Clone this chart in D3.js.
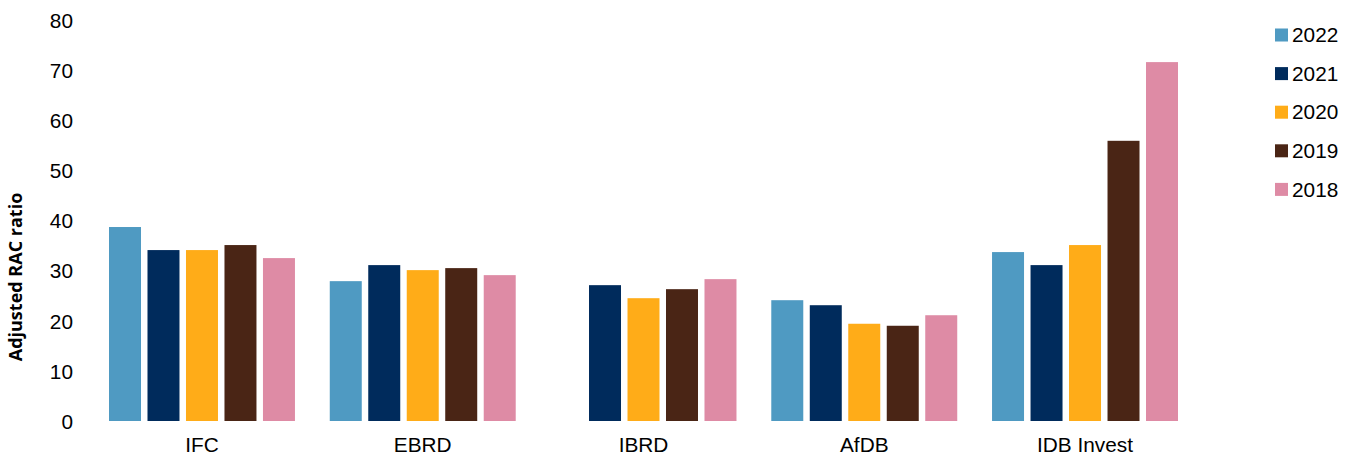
<!DOCTYPE html>
<html><head><meta charset="utf-8">
<script src="https://cdn.jsdelivr.net/npm/d3@7"></script>
<style>body{margin:0;background:#fff}</style>
</head><body>
<svg id="c" width="1351" height="457"></svg>
<script>
const categories = ["IFC","EBRD","IBRD","AfDB","IDB Invest"];
const years = ["2022","2021","2020","2019","2018"];
const v2022 = [38.7, 27.9, null, 24.1, 33.7];
const v2021 = [34.1, 31.1, 27.1, 23.1, 31.1];
const v2020 = [34.1, 30.1, 24.5, 19.4, 35.1];
const v2019 = [35.1, 30.5, 26.3, 19.0, 55.9];
const v2018 = [32.5, 29.1, 28.3, 21.1, 71.6];
const yTicks = [0,10,20,30,40,50,60,70,80];
const colors = ["#4F9AC2","#002B5C","#FFAC18","#4A2515","#DE8BA5"];
const series = [v2022, v2021, v2020, v2019, v2018];

const svg = d3.select("#c");
const font = "'Liberation Sans', Arial, sans-serif";
const fs = 20.8;
const x0 = d3.scaleBand().domain(categories).range([91.6, 1195.4]).padding(0);
const x1 = d3.scaleBand().domain(years).range([17.4, x0.bandwidth()-17.4]).paddingInner(6.5/38.5).paddingOuter(0);
const y = d3.scaleLinear().domain([0,80]).range([421,20]);

// y axis labels
const yAxis = svg.append("g").attr("transform","translate(73,0)")
  .call(d3.axisLeft(y).tickValues(yTicks).tickSize(0).tickPadding(0));
yAxis.select(".domain").remove();
yAxis.selectAll("text").attr("font-family",font).attr("font-size",fs).attr("fill","#000").attr("dy","0.35em");

// x axis labels
const xAxis = svg.append("g").attr("transform","translate(0,421)")
  .call(d3.axisBottom(x0).tickSize(0).tickPadding(0));
xAxis.select(".domain").remove();
xAxis.selectAll("text").attr("font-family",font).attr("font-size",fs).attr("fill","#000").attr("dy",null).attr("y",31);

// bars
const rows = [];
categories.forEach((c,i)=>years.forEach((yr,j)=>{ if(series[j][i]!=null) rows.push({c,yr,j,v:series[j][i]}); }));
svg.append("g").selectAll("rect").data(rows).join("rect")
  .attr("x",d=>x0(d.c)+x1(d.yr)).attr("width",x1.bandwidth())
  .attr("y",d=>y(d.v)).attr("height",d=>y(0)-y(d.v))
  .attr("fill",d=>colors[d.j]);

// y title
svg.append("text").attr("transform","translate(22,277) rotate(-90)")
  .attr("text-anchor","middle").attr("font-family","'Open Sans', sans-serif")
  .attr("font-weight","bold").attr("font-size",18).attr("fill","#000").text("Adjusted RAC ratio");

// legend
const lg = svg.append("g").selectAll("g").data(years).join("g")
  .attr("transform",(d,i)=>`translate(1275,${35+i*38.6})`);
lg.append("rect").attr("x",0).attr("y",-6.5).attr("width",13).attr("height",13).attr("fill",(d,i)=>colors[i]);
lg.append("text").attr("x",17).attr("dy","0.35em").attr("font-family",font).attr("font-size",fs).attr("fill","#000").text(d=>d);
</script>
</body></html>
